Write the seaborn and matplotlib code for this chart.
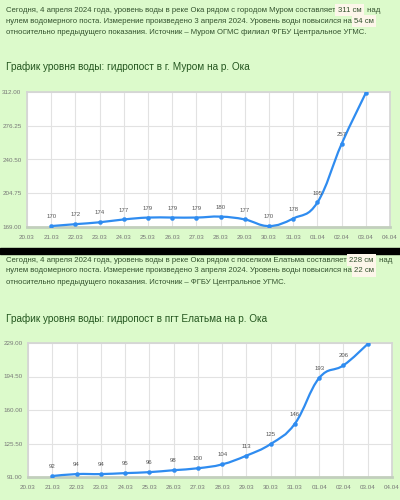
import numpy as np
import matplotlib
matplotlib.use("Agg")
import matplotlib.pyplot as plt
from matplotlib.path import Path
from matplotlib.patches import PathPatch
import seaborn as sns

# Data
dates = ["20.03", "21.03", "22.03", "23.03", "24.03", "25.03", "26.03", "27.03",
         "28.03", "29.03", "30.03", "31.03", "01.04", "02.04", "03.04", "04.04"]
murom_levels = [170, 172, 174, 177, 179, 179, 179, 180, 177, 170, 178, 195, 257, 311]
elatma_levels = [92, 94, 94, 95, 96, 98, 100, 104, 113, 125, 146, 193, 206, 228]
murom_ylim = (169.0, 312.0)
elatma_ylim = (91.0, 229.0)

murom_text = [
    ["Сегодня, 4 апреля 2024 года, уровень воды в реке Ока рядом с городом Муром составляет ", "*311 см", " над"],
    ["нулем водомерного поста. Измерение произведено 3 апреля 2024. Уровень воды повысился на ", "*54 см"],
    ["относительно предыдущего показания. Источник – Муром ОГМС филиал ФГБУ Центральное УГМС."],
]
elatma_text = [
    ["Сегодня, 4 апреля 2024 года, уровень воды в реке Ока рядом с поселком Елатьма составляет ", "*228 см", " над"],
    ["нулем водомерного поста. Измерение произведено 3 апреля 2024. Уровень воды повысился на ", "*22 см"],
    ["относительно предыдущего показания. Источник – ФГБУ Центральное УГМС."],
]
murom_title = "График уровня воды: гидропост в г. Муром на р. Ока"
elatma_title = "График уровня воды: гидропост в пгт Елатьма на р. Ока"

BG = "#dcfacb"
TXT = "#33522e"
LINE = "#2f8cf0"

sns.set_style("white")
plt.rcParams["font.family"] = ["Liberation Sans", "DejaVu Sans"]

W, H = 400, 500
fig = plt.figure(figsize=(4, 5), dpi=100, facecolor=BG)
renderer = fig.canvas.get_renderer()


def write_lines(lines, y0, step):
    # text lines with highlighted numbers, pieces placed one after another
    for i, pieces in enumerate(lines):
        x = 6
        y = 1 - (y0 + i * step) / H
        for p in pieces:
            hl = p.startswith("*")
            s = p[1:] if hl else p
            kw = {}
            if hl:
                kw["bbox"] = dict(boxstyle="square,pad=0.3", fc="#fdf6ea", ec="none")
            t = fig.text(x / W, y, s, fontsize=5.6, color=TXT, va="center", ha="left", **kw)
            bb = t.get_window_extent(renderer)
            x = bb.x1 + (4 if hl else 0)


def smooth_line(ax, xs, ys, color):
    xs = np.asarray(xs, float)
    ys = np.asarray(ys, float)
    verts = [(xs[0], ys[0])]
    codes = [Path.MOVETO]
    n = len(xs)
    k = 0.2
    for i in range(n - 1):
        p0 = i - 1 if i > 0 else i
        p3 = i + 2 if i + 2 < n else i + 1
        c1 = (xs[i] + (xs[i + 1] - xs[p0]) * k, ys[i] + (ys[i + 1] - ys[p0]) * k)
        c2 = (xs[i + 1] - (xs[p3] - xs[i]) * k, ys[i + 1] - (ys[p3] - ys[i]) * k)
        verts += [c1, c2, (xs[i + 1], ys[i + 1])]
        codes += [Path.CURVE4] * 3
    ax.add_patch(PathPatch(Path(verts, codes), fill=False, ec=color, lw=1.6, zorder=3))


def chart(rect, values, ylim):
    ax = fig.add_axes(rect, facecolor="white")
    x = np.arange(1, len(values) + 1)
    smooth_line(ax, x, values, LINE)
    sns.scatterplot(x=x, y=values, ax=ax, color=LINE, s=9, edgecolor=LINE, zorder=4)
    for xi, v in zip(x[:-1], values[:-1]):
        ax.annotate(str(v), (xi, v), xytext=(0, 5), textcoords="offset points",
                    ha="center", va="bottom", fontsize=4.3, color="#555555")
    ax.set_xlim(0, len(dates) - 1)
    ax.set_ylim(*ylim)
    ax.set_xticks(range(len(dates)))
    ax.set_xticklabels(dates)
    yt = np.linspace(ylim[0], ylim[1], 5)
    ax.set_yticks(yt)
    ax.set_yticklabels([f"{v:.2f}" for v in yt])
    ax.grid(True, color="#e2e2e2", lw=0.8)
    ax.tick_params(labelsize=4.5, colors="#777777", length=2, width=0.5)
    ax.tick_params(axis="y", pad=2)
    ax.tick_params(axis="x", pad=4)
    for sp in ax.spines.values():
        sp.set_visible(True)
        sp.set_color("#d4d4d4")
        sp.set_linewidth(1.2)
    ax.spines["bottom"].set_color("#c2cfbd")
    ax.spines["bottom"].set_linewidth(2)
    ax.set_xlabel("")
    ax.set_ylabel("")
    return ax


# top panel
write_lines(murom_text, 10, 11.3)
fig.text(6 / W, 1 - 67 / H, murom_title, fontsize=7.2, color="#24561f", va="center")
chart([27 / W, 1 - 227 / H, 363 / W, 135 / H], murom_levels, murom_ylim)

# separator
fig.patches.append(plt.Rectangle((0, 1 - 254 / H), 1, 6 / H, transform=fig.transFigure,
                                 color="black", zorder=0))

# bottom panel
write_lines(elatma_text, 260, 11)
fig.text(6 / W, 1 - 319 / H, elatma_title, fontsize=7.2, color="#24561f", va="center")
chart([28 / W, 1 - 477 / H, 364 / W, 134 / H], elatma_levels, elatma_ylim)

fig.savefig("out.png", dpi=100, facecolor=BG)
